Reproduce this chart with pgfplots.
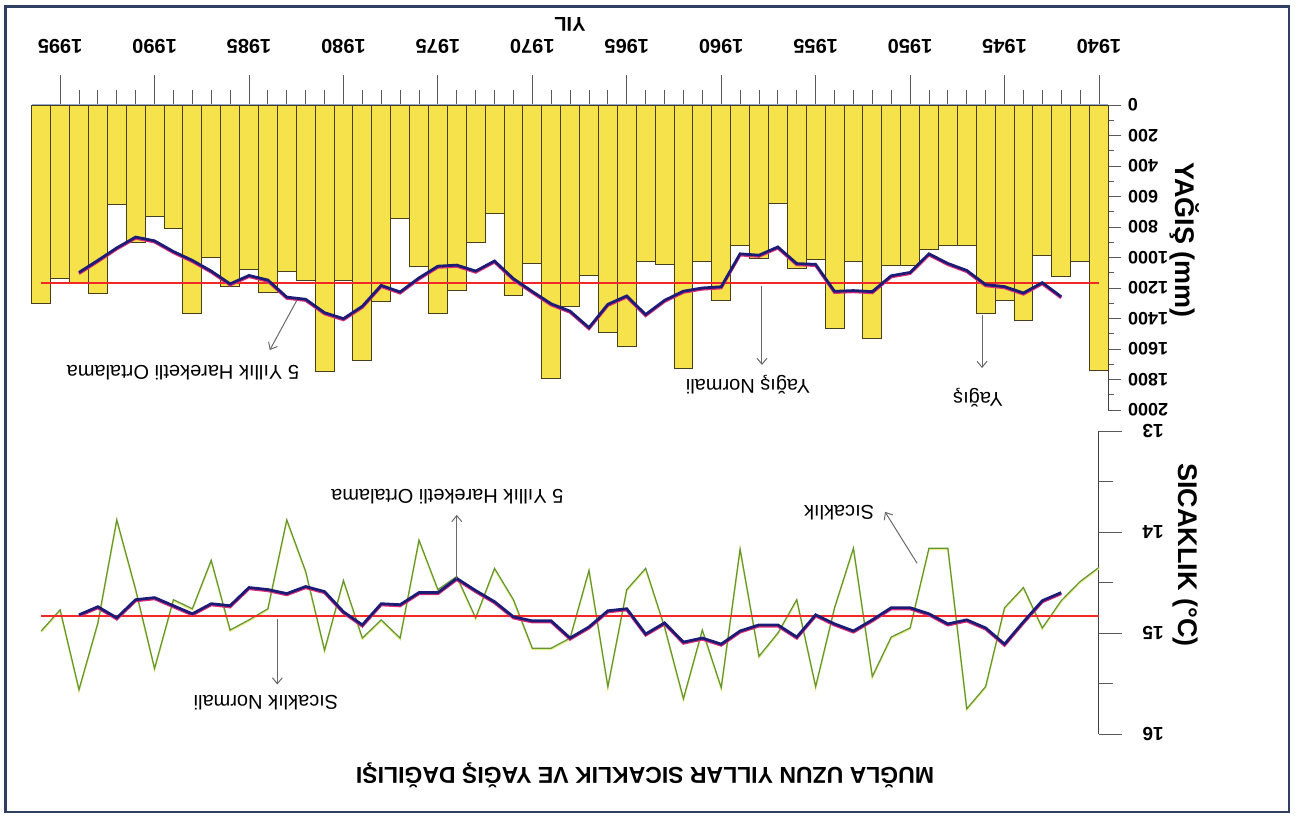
\documentclass[border=0pt]{standalone}
\usepackage{pgfplots}
\pgfplotsset{compat=1.18}
\usepackage{pgfplotstable}
\usepackage{fontspec}
\setmainfont{Liberation Sans}
\usetikzlibrary{arrows.meta}
\definecolor{baryellow}{RGB}{246,226,74}
\definecolor{baredge}{RGB}{70,62,30}
\definecolor{manavy}{RGB}{28,28,118}
\definecolor{mapink}{RGB}{225,45,120}
\definecolor{normred}{RGB}{240,40,40}
\definecolor{tempgreen}{RGB}{98,148,58}
\definecolor{temphalo}{RGB}{232,236,130}
\definecolor{framecol}{RGB}{48,62,98}
\definecolor{zeroline}{RGB}{150,170,205}
\definecolor{anncol}{RGB}{105,105,105}

% Annual precipitation (mm)
\pgfplotstableread{
year p
1940 1738
1941 1027
1942 1126
1943 984
1944 1410
1945 1279
1946 1366
1947 918
1948 918
1949 946
1950 1049
1951 1049
1952 1530
1953 1027
1954 1464
1955 1016
1956 1071
1957 645
1958 1006
1959 918
1960 1283
1961 1027
1962 1727
1963 1043
1964 1027
1965 1580
1966 1493
1967 1115
1968 1322
1969 1792
1970 1038
1971 1252
1972 710
1973 903
1974 1213
1975 1366
1976 1060
1977 743
1978 1290
1979 1672
1980 1148
1981 1749
1982 1148
1983 1093
1984 1230
1985 1078
1986 1190
1987 999
1988 1366
1989 811
1990 728
1991 903
1992 649
1993 1239
1994 1165
1995 1137
1996 1300
}\precip

% 5-year moving average of precipitation (mm)
\pgfplotstableread{
year ma
1942 1257
1943 1165
1944 1233
1945 1191
1946 1178
1947 1085
1948 1039
1949 976
1950 1098
1951 1120
1952 1224
1953 1217
1954 1222
1955 1045
1956 1040
1957 931
1958 985
1959 976
1960 1192
1961 1200
1962 1221
1963 1281
1964 1374
1965 1252
1966 1307
1967 1460
1968 1352
1969 1304
1970 1223
1971 1139
1972 1023
1973 1089
1974 1050
1975 1057
1976 1134
1977 1226
1978 1183
1979 1320
1980 1401
1981 1362
1982 1274
1983 1260
1984 1148
1985 1118
1986 1173
1987 1089
1988 1019
1989 961
1990 891
1991 866
1992 937
1993 1019
1994 1098
}\precipma

% Precipitation normal (mm)
\pgfplotstableread{
year n
1940 1170
1996 1170
}\precipnorm

% Annual mean temperature (C)
\pgfplotstableread{
year t
1940 14.35
1941 14.49
1942 14.68
1943 14.95
1944 14.55
1945 14.75
1946 15.53
1947 15.75
1948 14.16
1949 14.16
1950 14.95
1951 15.04
1952 15.43
1953 14.16
1954 14.75
1955 15.53
1956 14.67
1957 15.00
1958 15.23
1959 14.17
1960 15.54
1961 14.97
1962 15.65
1963 14.94
1964 14.36
1965 14.57
1966 15.53
1967 14.38
1968 15.05
1969 15.15
1970 15.15
1971 14.67
1972 14.36
1973 14.85
1974 14.44
1975 14.57
1976 14.08
1977 15.05
1978 14.87
1979 15.05
1980 14.48
1981 15.17
1982 14.39
1983 13.88
1984 14.76
1985 14.87
1986 14.97
1987 14.28
1988 14.76
1989 14.67
1990 15.35
1991 14.57
1992 13.88
1993 14.90
1994 15.56
1995 14.77
1996 14.98
}\temp

% 5-year moving average of temperature (C)
\pgfplotstableread{
year ma
1942 14.60
1943 14.68
1944 14.89
1945 15.11
1946 14.95
1947 14.87
1948 14.91
1949 14.81
1950 14.75
1951 14.75
1952 14.87
1953 14.98
1954 14.91
1955 14.82
1956 15.04
1957 14.92
1958 14.92
1959 14.98
1960 15.11
1961 15.05
1962 15.09
1963 14.90
1964 15.01
1965 14.76
1966 14.78
1967 14.94
1968 15.05
1969 14.88
1970 14.88
1971 14.84
1972 14.69
1973 14.58
1974 14.46
1975 14.60
1976 14.60
1977 14.72
1978 14.71
1979 14.92
1980 14.79
1981 14.59
1982 14.54
1983 14.61
1984 14.57
1985 14.55
1986 14.73
1987 14.71
1988 14.81
1989 14.73
1990 14.65
1991 14.67
1992 14.85
1993 14.74
1994 14.82
}\tempma

\begin{document}
\begin{tikzpicture}
\useasboundingbox (0,0) rectangle (649pt,408pt);
\draw[framecol, line width=1.1pt] (2.75pt,2pt) rectangle (644.5pt,404.75pt);

% ---------------- Precipitation panel ----------------
\begin{axis}[
  at={(285.05pt,279.25pt)}, anchor=center,
  scale only axis, width=538.3pt, height=152.5pt,
  x dir=reverse, y dir=reverse,
  xmin=1939.5, xmax=1996.5, ymin=0, ymax=2000,
  axis x line*=top, axis y line*=right,
  x axis line style={zeroline, line width=0.6pt, -},
  y axis line style={black!75, line width=0.5pt, -},
  tick align=outside,
  xtick={1940,1945,...,1995}, minor x tick num=4,
  ytick={0,200,...,2000}, minor y tick num=1,
  xtick style={black!65, line width=0.4pt, /pgfplots/major tick length=15pt, /pgfplots/minor tick length=7.5pt},
  ytick style={black!65, line width=0.4pt, /pgfplots/major tick length=6.5pt, /pgfplots/minor tick length=3pt},
  xticklabel style={font=\bfseries\fontsize{10}{12}\selectfont, yshift=18pt, rotate=180, anchor=north},
  yticklabel style={font=\bfseries\fontsize{9}{11}\selectfont, xshift=2pt, rotate=180, anchor=east},
  /pgf/number format/1000 sep={},
  /pgf/number format/assume math mode=true,
  clip=false,
]
\addplot[ybar, bar width=1, bar shift=0pt, fill=baryellow, draw=baredge, line width=0.45pt]
  table[x=year,y=p]{\precip};
\addplot[sharp plot, no markers, color=normred, line width=1pt] table[x=year,y=n]{\precipnorm};
\addplot[sharp plot, no markers, color=mapink, line width=1.4pt, yshift=-0.6pt] table[x=year,y=ma]{\precipma};
\addplot[sharp plot, no markers, color=manavy, line width=1.4pt] table[x=year,y=ma]{\precipma};

\draw[anncol, line width=0.5pt, -{Straight Barb[length=3pt,width=5pt]}]
  (axis cs:1982.46,1279) -- (axis cs:1983.9,1607);
\node[rotate=180, font=\fontsize{10}{12}\selectfont] at (axis cs:1988.5,1757) {5 Yıllık Hareketli Ortalama};
\draw[anncol, line width=0.5pt, -{Straight Barb[length=3pt,width=5pt]}]
  (axis cs:1957.84,1185) -- (axis cs:1957.84,1705);
\node[rotate=180, font=\fontsize{10}{12}\selectfont] at (axis cs:1958.58,1836) {Yağış Normali};
\draw[anncol, line width=0.5pt, -{Straight Barb[length=3pt,width=5pt]}]
  (axis cs:1946.19,1377) -- (axis cs:1946.19,1725);
\node[rotate=180, font=\fontsize{10}{12}\selectfont] at (axis cs:1946.4,1921) {Yağış};
\end{axis}

% ---------------- Temperature panel ----------------
\begin{axis}[
  at={(282.7pt,116.75pt)}, anchor=center,
  scale only axis, width=533.6pt, height=151.5pt,
  x dir=reverse, y dir=reverse,
  xmin=1940, xmax=1996.5, ymin=13, ymax=16,
  axis x line=none, axis y line*=right,
  y axis line style={black!75, line width=0.5pt, -},
  tick align=outside,
  ytick={13,14,15,16}, minor y tick num=1,
  ytick style={black!65, line width=0.4pt, /pgfplots/major tick length=11.5pt, /pgfplots/minor tick length=7pt},
  yticklabel style={font=\bfseries\fontsize{9.5}{11}\selectfont, xshift=14pt, rotate=180, anchor=east},
  /pgf/number format/assume math mode=true,
  clip=false,
]
\addplot[sharp plot, no markers, color=temphalo, line width=0.9pt, yshift=-0.5pt] table[x=year,y=t]{\temp};
\addplot[sharp plot, no markers, color=tempgreen, line width=0.6pt] table[x=year,y=t]{\temp};
\addplot[sharp plot, no markers, color=normred, line width=0.8pt] coordinates {(1940,14.83) (1996,14.83)};
\addplot[sharp plot, no markers, color=mapink, line width=1.4pt, yshift=-0.6pt] table[x=year,y=ma]{\tempma};
\addplot[sharp plot, no markers, color=manavy, line width=1.4pt] table[x=year,y=ma]{\tempma};

\draw[anncol, line width=0.5pt, -{Straight Barb[length=3pt,width=5pt]}]
  (axis cs:1974,14.47) -- (axis cs:1974,13.83);
\node[rotate=180, font=\fontsize{10}{12}\selectfont] at (axis cs:1974.5,13.65) {5 Yıllık Hareketli Ortalama};
\draw[anncol, line width=0.5pt, -{Straight Barb[length=3pt,width=5pt]}]
  (axis cs:1983.5,14.86) -- (axis cs:1983.5,15.51);
\node[rotate=180, font=\fontsize{10}{12}\selectfont] at (axis cs:1984.1,15.69) {Sıcaklık Normali};
\draw[anncol, line width=0.5pt, -{Straight Barb[length=3pt,width=5pt]}]
  (axis cs:1949.63,14.31) -- (axis cs:1951.33,13.80);
\node[rotate=180, font=\fontsize{10}{12}\selectfont] at (axis cs:1953.76,13.81) {Sıcaklık};
\end{axis}

% ---------------- Titles and axis labels ----------------
\node[rotate=180, font=\bfseries\fontsize{11.5}{13}\selectfont] at (322.5pt,20.5pt) {MUĞLA UZUN YILLAR SICAKLIK VE YAĞIŞ DAĞILIŞI};
\node[rotate=180, font=\bfseries\fontsize{10}{12}\selectfont] at (285pt,396pt) {YIL};
\node[rotate=-90, font=\bfseries\fontsize{13.5}{15}\selectfont] at (592.5pt,288pt) {YAĞIŞ (mm)};
\node[rotate=-90, font=\bfseries\fontsize{13.5}{15}\selectfont] at (592.5pt,130.5pt) {SICAKLIK (°C)};
\end{tikzpicture}
\end{document}
